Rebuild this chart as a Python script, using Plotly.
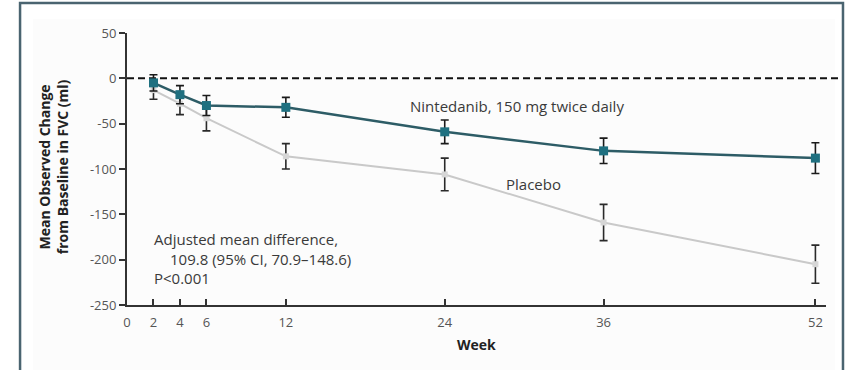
import plotly.graph_objects as go

weeks = [2, 4, 6, 12, 24, 36, 52]
nintedanib = [-5, -18, -30, -32, -59, -80, -88]
nintedanib_err = [9, 10, 11, 11, 13, 14, 17]
placebo = [-13, -28, -44, -86, -106, -159, -205]
placebo_err = [10, 12, 14, 14, 18, 20, 21]

x_ticks = [0, 2, 4, 6, 12, 24, 36, 52]
y_ticks = [50, 0, -50, -100, -150, -200, -250]

FONT = "Open Sans"

fig = go.Figure()

fig.add_trace(go.Scatter(
    x=weeks, y=placebo, mode="lines+markers",
    line=dict(color="#c9c9c9", width=2),
    marker=dict(symbol="square", size=6, color="#d6d6d6"),
    error_y=dict(type="data", array=placebo_err, color="#2a2a2a", thickness=1.6, width=4),
    showlegend=False, cliponaxis=False, name="Placebo"))

fig.add_trace(go.Scatter(
    x=weeks, y=nintedanib, mode="lines+markers",
    line=dict(color="#2d5c66", width=2.5),
    marker=dict(symbol="square", size=9, color="#1f7080"),
    error_y=dict(type="data", array=nintedanib_err, color="#1a1a1a", thickness=1.6, width=4),
    showlegend=False, cliponaxis=False, name="Nintedanib"))

shapes = [
    # faint inner panel
    dict(type="rect", xref="paper", yref="paper", x0=-0.1345, x1=1.0129, y0=-0.3, y1=1.0515,
         line=dict(width=0), fillcolor="#fcfcfc", layer="below"),
    # zero reference line
    dict(type="line", xref="paper", yref="y", x0=0, x1=1.02, y0=0, y1=0,
         line=dict(color="#111", width=2, dash="7px,4px"), layer="below"),
    # outer frame
    dict(type="rect", xref="paper", yref="paper", x0=-0.153, x1=1.0243, y0=-0.3, y1=1.11,
         line=dict(color="#4a6470", width=2.5), fillcolor="rgba(0,0,0,0)"),
]

ann_font = dict(family=FONT, size=15, color="#3a3a3a")
annotations = [
    dict(x=21.2, y=-31, xref="x", yref="y", text="Nintedanib, 150 mg twice daily",
         showarrow=False, xanchor="left", yanchor="middle", font=ann_font),
    dict(x=28.45, y=-116, xref="x", yref="y", text="Placebo",
         showarrow=False, xanchor="left", yanchor="middle", font=ann_font),
    dict(x=1.9, y=-177.6, xref="x", yref="y", text="Adjusted mean difference,",
         showarrow=False, xanchor="left", yanchor="middle", font=ann_font),
    dict(x=3.1, y=-199.6, xref="x", yref="y", text="109.8 (95% CI, 70.9\u2013148.6)",
         showarrow=False, xanchor="left", yanchor="middle", font=ann_font),
    dict(x=1.9, y=-220.6, xref="x", yref="y", text="P<0.001",
         showarrow=False, xanchor="left", yanchor="middle", font=ann_font),
    dict(x=-0.106, y=0.51, xref="paper", yref="paper",
         text="<b>Mean Observed Change<br>from Baseline in FVC (ml)</b>",
         showarrow=False, textangle=-90, xanchor="center", yanchor="middle",
         font=dict(family=FONT, size=14, color="#222")),
    dict(x=26.4, y=-0.147, xref="x", yref="paper", text="<b>Week</b>",
         showarrow=False, xanchor="center", yanchor="middle",
         font=dict(family=FONT, size=14, color="#222")),
]

fig.update_layout(
    width=850, height=370,
    margin=dict(l=127, r=24, t=33, b=65),
    paper_bgcolor="white", plot_bgcolor="rgba(0,0,0,0)",
    shapes=shapes, annotations=annotations,
    font=dict(family=FONT),
)

fig.update_xaxes(
    range=[0, 52.8], tickvals=x_ticks, ticktext=[str(t) for t in x_ticks],
    showgrid=False, zeroline=False, showline=True, linecolor="#333", linewidth=2,
    ticks="inside", ticklen=6, tickwidth=2, tickcolor="#333",
    tickfont=dict(family=FONT, size=13, color="#555"), ticklabelstandoff=4,
)
fig.update_yaxes(
    range=[-250, 50], tickvals=y_ticks, ticktext=[f"{t}" if t >= 0 else f"-{abs(t)}" for t in y_ticks],
    showgrid=False, zeroline=False, showline=True, linecolor="#333", linewidth=2,
    ticks="outside", ticklen=6, tickwidth=2, tickcolor="#333",
    tickfont=dict(family=FONT, size=13, color="#555"),
)

fig.write_html("out.html", config={"displayModeBar": False},
               post_script="document.body.style.margin='0px';")
